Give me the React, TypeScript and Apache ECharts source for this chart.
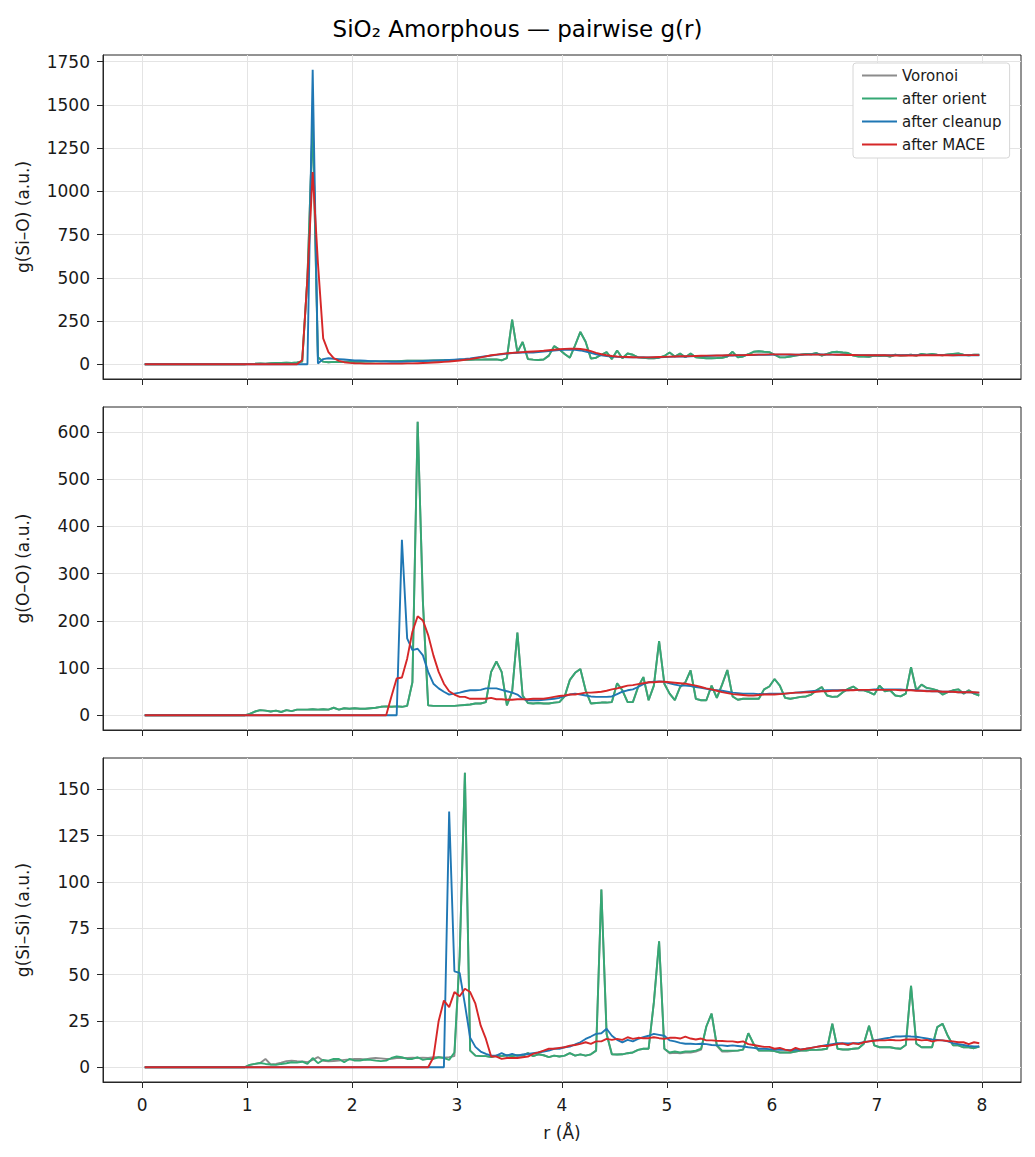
import React, { useEffect, useRef } from "react";
import * as echarts from "echarts";

// r grid: bin centres, 0.05 Å bins from 0 to 8 Å
const rValues: number[] = Array.from({ length: 160 }, (_, k) => +(0.025 + 0.05 * k).toFixed(3));

const xTicks = [0, 1, 2, 3, 4, 5, 6, 7, 8];
const siOTicks = [0, 250, 500, 750, 1000, 1250, 1500, 1750];
const ooTicks = [0, 100, 200, 300, 400, 500, 600];
const siSiTicks = [0, 25, 50, 75, 100, 125, 150];

const seriesNames = ["Voronoi", "after orient", "after cleanup", "after MACE"];

// ---------- g(Si–O) ----------
const siOOrient = [
  0, 0, 0, 0, 0, 0, 0, 0, 0, 0,
  0, 0, 0, 0, 0, 0, 0, 0, 0, 0,
  2, 3, 5, 4, 6, 8, 7, 9, 8, 10,
  15, 500, 1400, 40, 15, 12, 14, 13, 15, 14,
  15, 15, 16, 16, 17, 17, 18, 18, 18, 19,
  20, 20, 20, 21, 21, 22, 22, 23, 24, 25,
  25, 26, 26, 27, 27, 28, 28, 28, 23, 35,
  258, 70, 129, 30, 27, 25, 28, 50, 105, 85,
  60, 38, 110, 187, 130, 33, 38, 55, 70, 30,
  80, 35, 62, 55, 40, 38, 35, 35, 38, 48,
  68, 45, 62, 40, 62, 40, 38, 35, 35, 36,
  38, 45, 72, 40, 45, 58, 72, 75, 72, 70,
  55, 40, 40, 45, 50, 55, 60, 58, 65, 50,
  60, 70, 72, 68, 65, 50, 45, 45, 43, 50,
  48, 50, 45, 55, 50, 52, 55, 50, 60, 55,
  60, 55, 52, 57, 60, 62, 55, 52, 55, 55,
];
const siOVoronoi = siOOrient;
const siOCleanup = [
  0, 0, 0, 0, 0, 0, 0, 0, 0, 0,
  0, 0, 0, 0, 0, 0, 0, 0, 0, 0,
  0, 0, 0, 0, 0, 0, 0, 0, 0, 0,
  0, 0, 1703, 5, 30, 35, 32, 30, 28, 25,
  22, 22, 20, 18, 18, 17, 16, 15, 15, 15,
  16, 17, 18, 19, 20, 21, 22, 23, 25, 27,
  29, 31, 34, 38, 42, 46, 50, 54, 58, 62,
  65, 67, 68, 68, 68, 70, 73, 77, 80, 82,
  84, 85, 84, 80, 74, 66, 58, 52, 48, 45,
  43, 42, 41, 40, 40, 40, 40, 40, 41, 42,
  43, 44, 45, 45, 46, 47, 48, 48, 49, 50,
  50, 51, 51, 52, 52, 53, 54, 55, 55, 55,
  56, 56, 56, 55, 55, 56, 56, 57, 57, 57,
  56, 56, 55, 55, 54, 54, 53, 53, 52, 52,
  52, 52, 52, 53, 53, 53, 53, 53, 54, 53,
  53, 53, 53, 53, 52, 52, 52, 52, 52, 52,
];
const siOMace = [
  0, 0, 0, 0, 0, 0, 0, 0, 0, 0,
  0, 0, 0, 0, 0, 0, 0, 0, 0, 0,
  0, 0, 0, 0, 0, 0, 0, 0, 0, 0,
  25, 500, 1112, 585, 150, 70, 35, 20, 12, 8,
  6, 5, 4, 4, 4, 4, 4, 4, 4, 4,
  5, 5, 6, 7, 8, 10, 12, 14, 16, 19,
  22, 26, 30, 35, 40, 46, 52, 56, 60, 63,
  66, 68, 70, 72, 74, 76, 78, 81, 84, 87,
  89, 90, 90, 88, 84, 76, 66, 58, 52, 48,
  45, 43, 42, 41, 40, 40, 40, 41, 42, 43,
  44, 45, 46, 46, 47, 48, 49, 50, 50, 51,
  51, 52, 52, 53, 53, 54, 55, 56, 56, 57,
  57, 57, 57, 57, 56, 56, 56, 56, 56, 56,
  56, 56, 55, 55, 54, 54, 53, 53, 52, 52,
  52, 52, 51, 51, 51, 51, 51, 51, 52, 52,
  52, 52, 52, 52, 52, 53, 53, 53, 53, 53,
];

// ---------- g(O–O) ----------
const ooOrient = [
  0, 0, 0, 0, 0, 0, 0, 0, 0, 0,
  0, 0, 0, 0, 0, 0, 0, 0, 0, 0,
  3, 8, 11, 10, 8, 10, 7, 11, 9, 12,
  12, 12, 13, 12, 13, 12, 16, 12, 15, 14,
  15, 14, 14, 15, 16, 18, 19, 18, 19, 18,
  20, 70, 622, 240, 21, 20, 20, 20, 20, 20,
  21, 22, 23, 25, 25, 28, 92, 114, 92, 21,
  50, 175, 42, 26, 25, 26, 25, 25, 27, 28,
  40, 75, 90, 98, 53, 25, 26, 27, 27, 28,
  68, 53, 28, 28, 60, 81, 32, 63, 157, 67,
  46, 32, 60, 70, 95, 35, 32, 32, 63, 37,
  65, 96, 40, 33, 35, 35, 35, 35, 55, 61,
  77, 63, 37, 35, 37, 39, 40, 44, 53, 60,
  42, 39, 40, 49, 56, 61, 53, 53, 49, 44,
  63, 51, 53, 42, 40, 46, 102, 53, 65, 58,
  56, 53, 44, 49, 53, 55, 46, 53, 46, 42,
];
const ooVoronoi = ooOrient;
const ooCleanup = [
  0, 0, 0, 0, 0, 0, 0, 0, 0, 0,
  0, 0, 0, 0, 0, 0, 0, 0, 0, 0,
  0, 0, 0, 0, 0, 0, 0, 0, 0, 0,
  0, 0, 0, 0, 0, 0, 0, 0, 0, 0,
  0, 0, 0, 0, 0, 0, 0, 0, 0, 372,
  163, 138, 141, 127, 92, 67, 57, 50, 44, 46,
  48, 51, 53, 53, 54, 57, 57, 57, 54, 51,
  48, 44, 35, 32, 32, 32, 33, 34, 35, 37,
  41, 44, 46, 44, 42, 40, 39, 39, 39, 40,
  45, 50, 53, 55, 60, 66, 70, 71, 72, 71,
  68, 65, 63, 63, 62, 60, 58, 56, 54, 53,
  52, 50, 48, 47, 46, 46, 46, 45, 45, 46,
  46, 46, 46, 47, 48, 49, 50, 51, 52, 52,
  53, 53, 53, 53, 53, 54, 54, 54, 54, 55,
  55, 55, 55, 55, 55, 54, 54, 53, 52, 52,
  51, 51, 50, 50, 50, 49, 49, 49, 48, 48,
];
const ooMace = [
  0, 0, 0, 0, 0, 0, 0, 0, 0, 0,
  0, 0, 0, 0, 0, 0, 0, 0, 0, 0,
  0, 0, 0, 0, 0, 0, 0, 0, 0, 0,
  0, 0, 0, 0, 0, 0, 0, 0, 0, 0,
  0, 0, 0, 0, 0, 0, 0, 40, 78, 80,
  120, 177, 210, 201, 170, 127, 92, 67, 51, 44,
  39, 39, 35, 35, 35, 35, 37, 34, 34, 33,
  33, 34, 34, 34, 35, 35, 35, 37, 39, 41,
  42, 44, 44, 46, 48, 48, 49, 50, 52, 55,
  57, 60, 63, 64, 66, 68, 70, 70, 71, 71,
  70, 69, 68, 67, 65, 63, 60, 57, 55, 52,
  49, 47, 45, 44, 43, 42, 42, 43, 44, 44,
  44, 45, 46, 47, 48, 48, 49, 49, 50, 51,
  51, 52, 52, 53, 53, 53, 54, 54, 54, 54,
  54, 54, 54, 54, 53, 53, 53, 52, 52, 51,
  51, 51, 50, 50, 50, 49, 49, 49, 49, 48,
];

// ---------- g(Si–Si) ----------
const siSiVoronoi = [
  0, 0, 0, 0, 0, 0, 0, 0, 0, 0,
  0, 0, 0, 0, 0, 0, 0, 0, 0, 0,
  1.3, 1.8, 2.3, 4.5, 1.5, 1.8, 2.5, 3.3, 3.6, 3.3,
  3.2, 2.8, 4, 5.5, 3.5, 3.2, 3.4, 3.6, 4, 4.2,
  4.5, 4.5, 4.2, 4.8, 5, 4.8, 4.5, 4.6, 5, 5,
  5, 5.2, 5, 5.2, 5, 5.5, 5.4, 5.2, 5.5, 6,
  60, 159, 9, 6.3, 6, 6, 5.5, 6.3, 6, 6.5,
  6, 6.5, 6.3, 7.6, 6, 7, 6.5, 5.5, 6.3, 5.8,
  6.3, 7.6, 6.3, 7, 6.3, 7, 9, 96, 18, 7,
  6.9, 7, 7.6, 8, 9.4, 10, 10, 35, 68, 10,
  7.5, 7.8, 7.5, 8, 8, 8.5, 9.5, 22, 29, 11.5,
  8.5, 8.5, 8.8, 9, 9.5, 18.4, 12.5, 9, 9, 9,
  8.7, 8, 8, 8, 8.5, 9, 9, 9.4, 9.4, 9.6,
  10, 23.5, 10, 9.6, 9.6, 10, 10.3, 12.7, 22.4, 11.8,
  10.8, 10.8, 10.8, 10.3, 10, 12, 44, 12.7, 10.8, 10.8,
  10.8, 21.7, 23.5, 17, 11.8, 11.8, 10.8, 10.8, 10.3, 11.2,
];
const siSiOrient = [
  0, 0, 0, 0, 0, 0, 0, 0, 0, 0,
  0, 0, 0, 0, 0, 0, 0, 0, 0, 0,
  1.3, 1.8, 2.3, 1.8, 1.5, 1.3, 1.8, 2.2, 2.7, 2.5,
  3, 1.8, 5, 2.2, 4, 3.6, 4.5, 4.5, 2.7, 4.5,
  3.6, 3.6, 4.2, 4, 3.6, 3.3, 3.6, 5, 5.8, 5.4,
  4.5, 4.5, 5.4, 4, 4.5, 4.5, 5.4, 5, 4, 8,
  60, 159, 9, 6.3, 6, 6, 5.5, 6.3, 6, 6.5,
  6, 6.5, 6.3, 7.6, 6, 7, 6.5, 5.5, 6.3, 5.8,
  6.3, 7.6, 6.3, 7, 6.3, 7, 9, 96, 18, 7,
  6.9, 7, 7.6, 8, 9.4, 10, 10, 35, 68, 10,
  8, 8.5, 8, 8.5, 8.5, 9, 10, 22, 29, 12,
  9, 9, 9, 9, 9.5, 18.4, 12.7, 9, 9, 9,
  8.7, 8, 8, 8, 8.5, 9, 9, 9.4, 9.4, 9.6,
  10, 23.5, 10, 9.6, 9.6, 10, 10.3, 12.7, 22.4, 11.8,
  10.8, 10.8, 10.8, 10.3, 10, 12, 44, 12.7, 10.8, 10.8,
  10.8, 21.7, 23.5, 17, 11.8, 11.8, 10.8, 10.8, 10.3, 11.2,
];
const siSiCleanup = [
  0, 0, 0, 0, 0, 0, 0, 0, 0, 0,
  0, 0, 0, 0, 0, 0, 0, 0, 0, 0,
  0, 0, 0, 0, 0, 0, 0, 0, 0, 0,
  0, 0, 0, 0, 0, 0, 0, 0, 0, 0,
  0, 0, 0, 0, 0, 0, 0, 0, 0, 0,
  0, 0, 0, 0, 0, 0, 0, 0, 138, 51.8,
  51, 34, 16, 11, 8.5, 7.2, 6.3, 6.3, 7.6, 6.3,
  7.2, 6.3, 6.9, 7.2, 7.6, 8, 8.5, 9, 10, 10,
  10.8, 11.2, 12.3, 13.5, 15.3, 16.6, 18, 18.4, 20.8, 17,
  14.8, 13.5, 14.8, 14, 15.3, 16.2, 17, 18, 17.5, 17,
  14.5, 14, 13.2, 12.7, 12.7, 12.5, 12.7, 12.5, 12, 11.8,
  11.8, 11.5, 11.8, 11.5, 11.2, 10.8, 10.5, 10, 10, 9.8,
  9.6, 9.4, 9.4, 9.2, 9.4, 9.6, 10, 10.5, 11, 11.5,
  12, 12.5, 13, 13, 12.8, 13, 13, 13.5, 14, 14.5,
  15, 15.5, 16, 16.6, 16.6, 16.8, 16.6, 16.5, 16, 15.5,
  15, 14.8, 14.5, 14, 13, 12.5, 12, 11.5, 11.2, 11.2,
];
const siSiMace = [
  0, 0, 0, 0, 0, 0, 0, 0, 0, 0,
  0, 0, 0, 0, 0, 0, 0, 0, 0, 0,
  0, 0, 0, 0, 0, 0, 0, 0, 0, 0,
  0, 0, 0, 0, 0, 0, 0, 0, 0, 0,
  0, 0, 0, 0, 0, 0, 0, 0, 0, 0,
  0, 0, 0, 0, 0, 5.4, 25, 36, 32.5, 40.6,
  38.3, 42.4, 40.6, 34.3, 22.6, 15.3, 5.8, 5.8, 4.5, 5,
  5, 5, 5.4, 5.8, 7.2, 8, 9, 10, 10, 10.5,
  10.8, 11.7, 12, 12.6, 13.5, 12.6, 14, 14, 15.3, 14.8,
  15.3, 14.8, 16.2, 15.3, 15.9, 15.7, 15.7, 16.2, 15.7, 15.3,
  15.9, 16, 15.5, 16.5, 15.5, 15, 15.5, 14.5, 14.5, 14.3,
  14.2, 14, 14, 13.5, 14, 12.5, 12, 11.5, 11, 11,
  10, 10.5, 9.5, 9, 10.5, 9.5, 10, 10.5, 11, 11.5,
  11.5, 12, 12.5, 12.8, 12, 13, 12.5, 13.5, 14, 14.3,
  14.5, 14.5, 14.8, 14.6, 14.5, 15, 15, 15, 14.5, 14.8,
  14, 14.5, 14.5, 14.2, 14, 13.5, 13.5, 12.5, 13.5, 13,
];

const colors = ["#8c8c8c", "#35a874", "#1f77b4", "#d62728"];
const FONT = "DejaVu Sans";
const INK = "#1a1a1a";
const TICK_FS = 17;

const panels = [
  { name: "g(Si–O) (a.u.)", ticks: siOTicks, data: [siOVoronoi, siOOrient, siOCleanup, siOMace], top: 55, height: 324 },
  { name: "g(O–O) (a.u.)", ticks: ooTicks, data: [ooVoronoi, ooOrient, ooCleanup, ooMace], top: 407, height: 323 },
  { name: "g(Si–Si) (a.u.)", ticks: siSiTicks, data: [siSiVoronoi, siSiOrient, siSiCleanup, siSiMace], top: 758, height: 324 },
];

function buildOption() {
  const grids: any[] = [];
  const xAxes: any[] = [];
  const yAxes: any[] = [];
  const series: any[] = [];
  const rMin = rValues[0];
  const rMax = rValues[rValues.length - 1];
  const rPad = 0.05 * (rMax - rMin);

  panels.forEach((p, i) => {
    let lo = Infinity;
    let hi = -Infinity;
    p.data.forEach((arr) => arr.forEach((v) => { if (v < lo) lo = v; if (v > hi) hi = v; }));
    const pad = 0.05 * (hi - lo);
    grids.push({
      left: 103, width: 918, top: p.top, height: p.height,
      show: true, borderColor: "#262626", borderWidth: 1, backgroundColor: "transparent",
      containLabel: false,
    });
    const last = i === panels.length - 1;
    xAxes.push({
      type: "value", gridIndex: i, min: rMin - rPad, max: rMax + rPad,
      name: last ? "r (Å)" : "", nameLocation: "middle", nameGap: 42,
      nameTextStyle: { fontSize: TICK_FS, color: INK, fontFamily: FONT },
      axisLine: { show: true, onZero: false, lineStyle: { color: "#262626", width: 1 } },
      axisTick: { show: true, customValues: xTicks, length: 6, lineStyle: { color: "#262626", width: 1 } },
      axisLabel: {
        show: last, customValues: xTicks, fontSize: TICK_FS, color: INK, fontFamily: FONT, margin: 14,
        formatter: (v: number) => String(v),
      },
      splitLine: { show: true, lineStyle: { color: "#e4e4e4", width: 1 } },
    });
    yAxes.push({
      type: "value", gridIndex: i, min: lo - pad, max: hi + pad,
      name: p.name, nameLocation: "middle", nameGap: 72, nameRotate: 90,
      nameTextStyle: { fontSize: TICK_FS, color: INK, fontFamily: FONT },
      axisLine: { show: true, onZero: false, lineStyle: { color: "#262626", width: 1 } },
      axisTick: { show: true, customValues: p.ticks, length: 6, lineStyle: { color: "#262626", width: 1 } },
      axisLabel: {
        customValues: p.ticks, fontSize: TICK_FS, color: INK, fontFamily: FONT, margin: 13,
        formatter: (v: number) => String(v),
      },
      splitLine: { show: true, lineStyle: { color: "#e4e4e4", width: 1 } },
    });
    p.data.forEach((arr, j) => {
      series.push({
        name: seriesNames[j], type: "line", xAxisIndex: i, yAxisIndex: i,
        data: rValues.map((r, k) => [r, arr[k]]),
        symbol: "none", showSymbol: false, clip: true,
        lineStyle: { color: colors[j], width: 1.9 },
        itemStyle: { color: colors[j] },
        emphasis: { disabled: true },
        z: 2 + j,
      });
    });
  });

  return {
    animation: false,
    backgroundColor: "#ffffff",
    textStyle: { fontFamily: FONT },
    title: {
      text: "SiO₂ Amorphous — pairwise g(r)", left: "center", top: 12,
      textStyle: { fontSize: 23, fontWeight: "normal", color: "#000", fontFamily: FONT },
    },
    legend: {
      data: seriesNames, orient: "vertical", left: 853, top: 63,
      icon: "rect", itemWidth: 35, itemHeight: 2, itemGap: 8,
      textStyle: { fontSize: 15, color: INK, fontFamily: FONT },
      backgroundColor: "#ffffff", borderColor: "#d6d6d6", borderWidth: 1, borderRadius: 3,
      padding: [5, 8, 6, 9],
    },
    grid: grids, xAxis: xAxes, yAxis: yAxes, series,
  };
}

export default function App() {
  const ref = useRef<HTMLDivElement>(null);
  useEffect(() => {
    if (!ref.current) return;
    const chart = echarts.init(ref.current, undefined, { renderer: "svg" });
    chart.setOption(buildOption() as any);
    return () => chart.dispose();
  }, []);
  return (
    <div
      ref={ref}
      style={{ position: "absolute", left: 0, top: 0, width: 1035, height: 1157, background: "#fff" }}
    />
  );
}
